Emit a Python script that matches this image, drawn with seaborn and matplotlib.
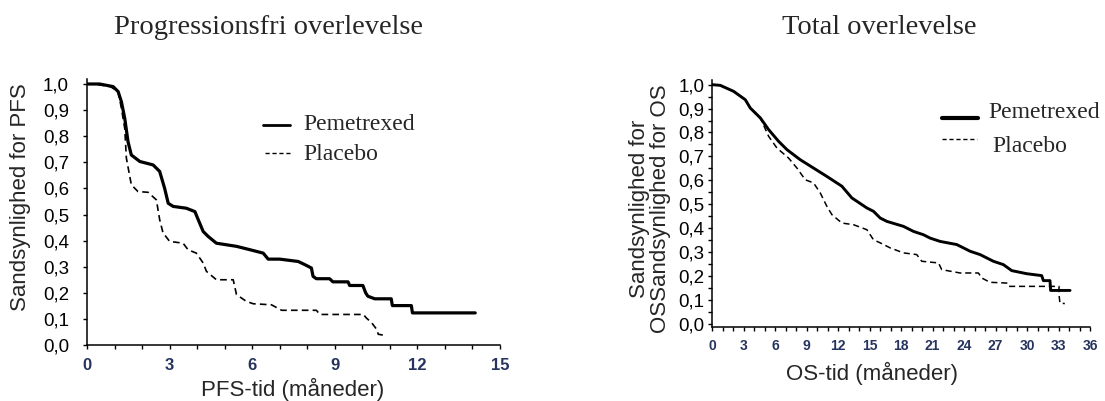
import matplotlib
matplotlib.use("Agg")
import matplotlib.pyplot as plt
import seaborn as sns
import numpy as np
from matplotlib.lines import Line2D
from matplotlib.ticker import MultipleLocator

# --- data ---
pfs_pem_t = [0, 0.46, 0.95, 1.13, 1.25, 1.37, 1.49, 1.61, 1.92, 2.4, 2.64, 2.82, 2.95, 3.13,
             3.61, 3.92, 4.04, 4.22, 4.4, 4.7, 5.43, 5.92, 6.4, 6.58, 7.0, 7.67, 7.91, 8.15,
             8.21, 8.33, 8.81, 8.93, 9.48, 9.54, 10.02, 10.12, 10.2, 10.45, 11.05, 11.09,
             11.78, 11.82, 14.1]
pfs_pem_s = [1.0, 1.0, 0.99, 0.971, 0.932, 0.869, 0.779, 0.728, 0.703, 0.69, 0.665, 0.6, 0.543,
             0.531, 0.524, 0.511, 0.48, 0.435, 0.416, 0.39, 0.378, 0.365, 0.352, 0.329, 0.329,
             0.32, 0.308, 0.295, 0.263, 0.254, 0.254, 0.242, 0.242, 0.228, 0.228, 0.2, 0.187,
             0.177, 0.177, 0.151, 0.151, 0.123, 0.123]

pfs_pla_t = [0, 0.24, 0.85, 1.13, 1.25, 1.37, 1.43, 1.61, 1.85, 2.22, 2.52, 2.64, 2.76, 3.0,
             3.49, 3.67, 3.97, 4.22, 4.34, 4.7, 5.31, 5.43, 5.79, 6.04, 6.7, 7.07, 8.33, 8.46,
             10.04, 10.14, 10.28, 10.34, 10.52, 10.58, 10.82]
pfs_pla_s = [1.0, 1.0, 0.99, 0.971, 0.907, 0.83, 0.716, 0.614, 0.588, 0.585, 0.556, 0.48, 0.43,
             0.397, 0.39, 0.365, 0.352, 0.314, 0.282, 0.25, 0.25, 0.193, 0.167, 0.158, 0.154,
             0.133, 0.133, 0.117, 0.117, 0.104, 0.091, 0.085, 0.06, 0.041, 0.037]

os_pem_t = [0, 0.79, 2.06, 3.17, 3.65, 4.6, 5.39, 6.34, 7.14, 8.4, 9.67, 10.94, 12.37, 13.32,
            14.75, 15.38, 16.02, 16.65, 18.24, 19.19, 20.14, 20.77, 21.73, 23.31, 24.58, 25.53,
            26.8, 27.75, 28.54, 29.97, 31.4, 31.56, 32.19, 32.25, 34.1]
os_pem_s = [1.0, 0.997, 0.972, 0.937, 0.902, 0.861, 0.812, 0.763, 0.728, 0.686, 0.651, 0.616,
            0.575, 0.526, 0.484, 0.47, 0.442, 0.428, 0.407, 0.386, 0.372, 0.358, 0.344, 0.331,
            0.303, 0.289, 0.261, 0.247, 0.222, 0.209, 0.201, 0.18, 0.18, 0.139, 0.139]

os_pla_t = [0, 0.79, 2.06, 3.17, 3.65, 4.6, 5.39, 6.18, 7.29, 8.09, 8.88, 9.67, 10.31, 10.94,
            11.42, 12.37, 13.48, 14.75, 15.38, 16.02, 16.97, 18.24, 19.5, 19.98, 21.57, 21.88,
            23.63, 25.37, 25.69, 26.48, 28.07, 28.23, 33.05, 33.05, 33.14, 33.6]
os_pla_s = [1.0, 0.997, 0.972, 0.937, 0.902, 0.861, 0.784, 0.735, 0.693, 0.651, 0.602, 0.589,
            0.547, 0.491, 0.456, 0.421, 0.414, 0.393, 0.351, 0.338, 0.317, 0.296, 0.289, 0.261,
            0.254, 0.226, 0.212, 0.212, 0.191, 0.173, 0.17, 0.156, 0.156, 0.12, 0.086, 0.084]

y_ticks = [0.0, 0.1, 0.2, 0.3, 0.4, 0.5, 0.6, 0.7, 0.8, 0.9, 1.0]
y_tick_labels = [f"{v:.1f}".replace(".", ",") for v in y_ticks]

SERIF = ["Liberation Serif", "DejaVu Serif"]
SANS = ["Liberation Sans", "DejaVu Sans"]
TICK_COLOR = "#27345e"

sns.set_style("white")
plt.rcParams["font.family"] = SANS

W, H = 1105, 401
fig = plt.figure(figsize=(W / 100, H / 100), dpi=100)


def px_axes(left, right, top, bottom):
    return fig.add_axes([left / W, 1 - bottom / H, (right - left) / W, (bottom - top) / H])


def style_axes(ax, xmax, ylo, xfs, ypad, xpad, yminor):
    for side in ("top", "right"):
        ax.spines[side].set_visible(False)
    for side in ("left", "bottom"):
        ax.spines[side].set_color("black")
        ax.spines[side].set_linewidth(1.1)
    ax.set_xlim(0, xmax)
    ax.set_ylim(ylo, 1.02)
    ax.xaxis.set_major_locator(MultipleLocator(3))
    ax.xaxis.set_minor_locator(MultipleLocator(1))
    ax.set_yticks(y_ticks)
    ax.set_yticklabels(y_tick_labels)
    if yminor:
        ax.yaxis.set_minor_locator(MultipleLocator(0.05))
    ax.tick_params(axis="both", which="both", direction="out", length=3, width=1,
                   color="black", bottom=True, left=True)
    ax.tick_params(axis="y", labelsize=13.5, pad=ypad, colors="black")
    ax.tick_params(axis="x", labelsize=xfs, pad=xpad, labelcolor=TICK_COLOR)
    for lab in ax.get_xticklabels():
        lab.set_fontweight("bold")
    ax.set_xlabel("")
    ax.set_ylabel("")
    ax.grid(False)


# --- left panel: PFS ---
ax1 = px_axes(87, 500, 345 - 1.02 * 261, 345)
sns.lineplot(x=pfs_pem_t, y=pfs_pem_s, ax=ax1, color="black", linewidth=2.3,
             estimator=None, sort=False)
sns.lineplot(x=pfs_pla_t, y=pfs_pla_s, ax=ax1, color="black", linewidth=1.2,
             linestyle=(0, (4, 2.5)), estimator=None, sort=False)
style_axes(ax1, 15, 0, 12, 10, 6, False)

# --- right panel: OS ---
ylo_r = -0.014
ax2 = px_axes(712, 1090, 327 - (1.02 - ylo_r) * 239, 327)
sns.lineplot(x=os_pem_t, y=os_pem_s, ax=ax2, color="black", linewidth=2.1,
             estimator=None, sort=False)
sns.lineplot(x=os_pla_t, y=os_pla_s, ax=ax2, color="black", linewidth=1.1,
             linestyle=(0, (4, 2.5)), estimator=None, sort=False)
style_axes(ax2, 36, ylo_r, 10, 2.5, 6, True)

# --- titles ---
fig.text(269 / W, 1 - 28 / H, "Progressionsfri overlevelse", family=SERIF,
         fontsize=20.5, ha="center", va="center")
fig.text(879 / W, 1 - 28 / H, "Total overlevelse", family=SERIF,
         fontsize=20.5, ha="center", va="center")

# --- axis labels ---
fig.text(21 / W, 1 - 197 / H, "Sandsynlighed for PFS", fontsize=16, rotation=90,
         ha="center", va="center")
fig.text(293 / W, 1 - 389 / H, "PFS-tid (måneder)", fontsize=16, ha="center", va="center")
fig.text(650 / W, 1 - 209 / H, "Sandsynlighed for\nOSSandsynlighed for OS", fontsize=16,
         rotation=90, ha="center", va="center", multialignment="center", linespacing=1.05)
fig.text(872 / W, 1 - 373 / H, "OS-tid (måneder)", fontsize=16, ha="center", va="center")

# --- legends ---
def legend_line(x0, x1, y, lw, dashed):
    ls = (0, (3, 2)) if dashed else "-"
    fig.add_artist(Line2D([x0 / W, x1 / W], [1 - y / H, 1 - y / H], color="black",
                          linewidth=lw, linestyle=ls, transform=fig.transFigure))


legend_line(263, 290, 125, 2.0, False)
legend_line(265, 290, 153, 1.0, True)
fig.text(303 / W, 1 - 124 / H, "Pemetrexed", family=SERIF, fontsize=17, va="center")
fig.text(303 / W, 1 - 155 / H, "Placebo", family=SERIF, fontsize=17, va="center")

legend_line(942, 978, 118, 3.0, False)
legend_line(942, 977, 139, 1.0, True)
fig.text(988 / W, 1 - 113 / H, "Pemetrexed", family=SERIF, fontsize=17, va="center")
fig.text(992 / W, 1 - 147 / H, "Placebo", family=SERIF, fontsize=17, va="center")

fig.savefig("out.png", dpi=100)
